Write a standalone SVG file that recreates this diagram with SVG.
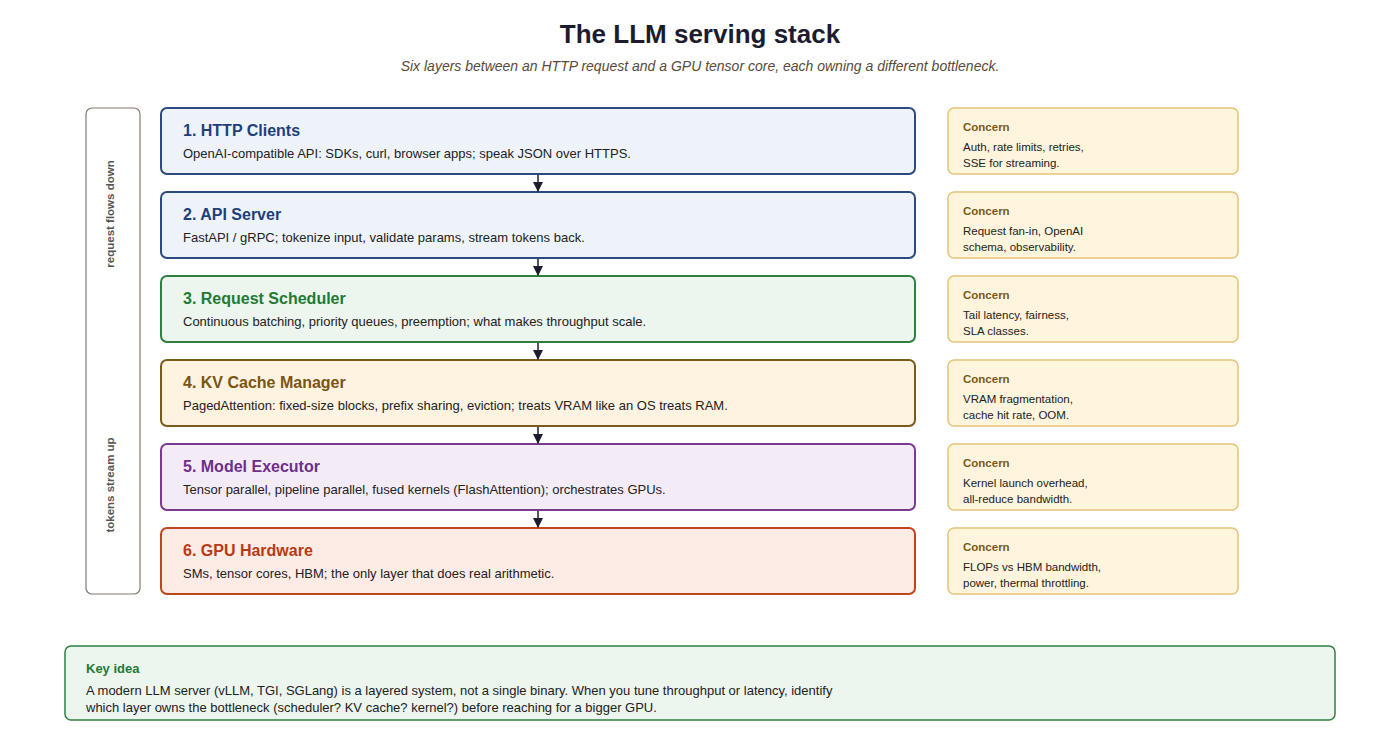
<svg xmlns="http://www.w3.org/2000/svg" width="1400" height="754" viewBox="0 0 1400 754">
<defs>
<style>
text{font-family:"Liberation Sans",Arial,sans-serif;}
.title{font-size:26px;font-weight:bold;fill:#1c1c2e;}
.sub{font-size:14px;font-style:italic;fill:#5a4a3a;}
.lt{font-size:16px;font-weight:bold;}
.ld{font-size:13px;fill:#222;}
.ct{font-size:11.5px;font-weight:bold;fill:#7a5a1a;}
.cd{font-size:11.5px;fill:#222;}
.side{font-size:11.5px;font-weight:bold;fill:#555;}
.concern{fill:#fff4dc;stroke:#e3c57a;stroke-width:1.5;}
.layer{stroke-width:2;}
.conn{stroke:#1c1c2e;stroke-width:1.5;fill:none;}
</style>
<marker id="arr" viewBox="0 0 10 10" refX="9" refY="5" markerWidth="10" markerHeight="10" orient="auto" markerUnits="userSpaceOnUse">
<path d="M0,0 L10,5 L0,10 z" fill="#1c1c2e"/>
</marker>
</defs>
<rect width="1400" height="754" fill="#ffffff"/>
<text class="title" x="700" y="43" text-anchor="middle">The LLM serving stack</text>
<text class="sub" x="700" y="71" text-anchor="middle">Six layers between an HTTP request and a GPU tensor core, each owning a different bottleneck.</text>

<g id="side-bracket">
<rect x="86" y="108" width="54" height="486" rx="6" fill="#fff" stroke="#857a6e" stroke-width="1.2"/>
<text class="side" transform="translate(114,214) rotate(-90)" text-anchor="middle">request flows down</text>
<text class="side" transform="translate(114,485) rotate(-90)" text-anchor="middle">tokens stream up</text>
</g>

<g id="layer1">
<rect class="layer" x="161" y="108" width="754" height="66" rx="6" fill="#eef3fa" stroke="#2a4a80"/>
<text class="lt" x="183" y="136" fill="#1f3f7a">1. HTTP Clients</text>
<text class="ld" x="183" y="158">OpenAI-compatible API: SDKs, curl, browser apps; speak JSON over HTTPS.</text>
</g>
<g id="layer2">
<rect class="layer" x="161" y="192" width="754" height="66" rx="6" fill="#eef3fa" stroke="#2a4a80"/>
<text class="lt" x="183" y="220" fill="#1f3f7a">2. API Server</text>
<text class="ld" x="183" y="242">FastAPI / gRPC; tokenize input, validate params, stream tokens back.</text>
</g>
<g id="layer3">
<rect class="layer" x="161" y="276" width="754" height="66" rx="6" fill="#ecf5ee" stroke="#2e8040"/>
<text class="lt" x="183" y="304" fill="#237a35">3. Request Scheduler</text>
<text class="ld" x="183" y="326">Continuous batching, priority queues, preemption; what makes throughput scale.</text>
</g>
<g id="layer4">
<rect class="layer" x="161" y="360" width="754" height="66" rx="6" fill="#fdf3e0" stroke="#7a5a1a"/>
<text class="lt" x="183" y="388" fill="#7a5515">4. KV Cache Manager</text>
<text class="ld" x="183" y="410">PagedAttention: fixed-size blocks, prefix sharing, eviction; treats VRAM like an OS treats RAM.</text>
</g>
<g id="layer5">
<rect class="layer" x="161" y="444" width="754" height="66" rx="6" fill="#f3ecf7" stroke="#7a3a90"/>
<text class="lt" x="183" y="472" fill="#6d2f8a">5. Model Executor</text>
<text class="ld" x="183" y="494">Tensor parallel, pipeline parallel, fused kernels (FlashAttention); orchestrates GPUs.</text>
</g>
<g id="layer6">
<rect class="layer" x="161" y="528" width="754" height="66" rx="6" fill="#fcece5" stroke="#c0441c"/>
<text class="lt" x="183" y="556" fill="#b83a15">6. GPU Hardware</text>
<text class="ld" x="183" y="578">SMs, tensor cores, HBM; the only layer that does real arithmetic.</text>
</g>

<g id="concern1">
<rect class="concern" x="948" y="108" width="290" height="66" rx="6"/>
<text class="ct" x="963" y="131">Concern</text>
<text class="cd" x="963" y="151">Auth, rate limits, retries,</text>
<text class="cd" x="963" y="167">SSE for streaming.</text>
</g>
<g id="concern2">
<rect class="concern" x="948" y="192" width="290" height="66" rx="6"/>
<text class="ct" x="963" y="215">Concern</text>
<text class="cd" x="963" y="235">Request fan-in, OpenAI</text>
<text class="cd" x="963" y="251">schema, observability.</text>
</g>
<g id="concern3">
<rect class="concern" x="948" y="276" width="290" height="66" rx="6"/>
<text class="ct" x="963" y="299">Concern</text>
<text class="cd" x="963" y="319">Tail latency, fairness,</text>
<text class="cd" x="963" y="335">SLA classes.</text>
</g>
<g id="concern4">
<rect class="concern" x="948" y="360" width="290" height="66" rx="6"/>
<text class="ct" x="963" y="383">Concern</text>
<text class="cd" x="963" y="403">VRAM fragmentation,</text>
<text class="cd" x="963" y="419">cache hit rate, OOM.</text>
</g>
<g id="concern5">
<rect class="concern" x="948" y="444" width="290" height="66" rx="6"/>
<text class="ct" x="963" y="467">Concern</text>
<text class="cd" x="963" y="487">Kernel launch overhead,</text>
<text class="cd" x="963" y="503">all-reduce bandwidth.</text>
</g>
<g id="concern6">
<rect class="concern" x="948" y="528" width="290" height="66" rx="6"/>
<text class="ct" x="963" y="551">Concern</text>
<text class="cd" x="963" y="571">FLOPs vs HBM bandwidth,</text>
<text class="cd" x="963" y="587">power, thermal throttling.</text>
</g>

<g id="connectors">
<line class="conn" x1="538" y1="175" x2="538" y2="191" marker-end="url(#arr)"/>
<line class="conn" x1="538" y1="259" x2="538" y2="275" marker-end="url(#arr)"/>
<line class="conn" x1="538" y1="343" x2="538" y2="359" marker-end="url(#arr)"/>
<line class="conn" x1="538" y1="427" x2="538" y2="443" marker-end="url(#arr)"/>
<line class="conn" x1="538" y1="511" x2="538" y2="527" marker-end="url(#arr)"/>
</g>

<g id="key-idea">
<rect x="65" y="646" width="1270" height="74" rx="6" fill="#ecf5ee" stroke="#2e8040" stroke-width="1.5"/>
<text x="86" y="673" font-size="13" font-weight="bold" fill="#237a35">Key idea</text>
<text x="86" y="695" font-size="13" fill="#222">A modern LLM server (vLLM, TGI, SGLang) is a layered system, not a single binary. When you tune throughput or latency, identify</text>
<text x="86" y="712" font-size="13" fill="#222">which layer owns the bottleneck (scheduler? KV cache? kernel?) before reaching for a bigger GPU.</text>
</g>
</svg>
